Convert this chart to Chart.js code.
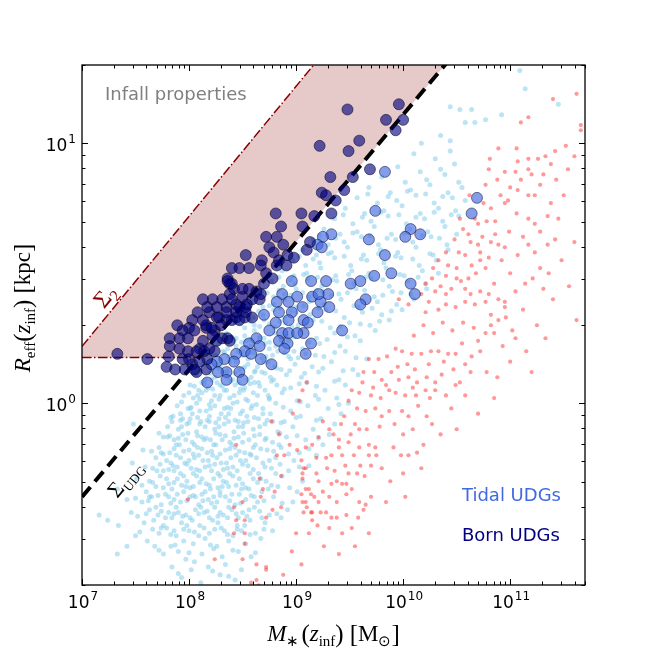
<!DOCTYPE html>
<html>
<head>
<meta charset="utf-8">
<script src="https://cdn.jsdelivr.net/npm/chart.js@4.4.1/dist/chart.umd.min.js"></script>
<style>
  html, body { margin: 0; padding: 0; background: #fff; }
  canvas { display: block; }
</style>
</head>
<body>
<canvas id="udgChart" width="650" height="650"></canvas>
<script>
// axis ranges and tick labels
const xRange = [1e7, 5e11];
const yRange = [0.2, 20];
const xTickExps = [7, 8, 9, 10, 11];
const yTickExps = [0, 1];

// surface density lines: R = norm * (M / 1e7)^slope
const sigUdg = { norm: 0.4365, slope: 0.49 };
const sig2 = { norm: 1.656, slope: 0.5 };
const rFloor = 1.5;

// all points as [log10 M*, log10 Reff]
const fieldPts = [
  [7.93,-0.67],[8.11,-0.69],[8.29,-0.66],[8.43,-0.68],[8.02,-0.64],
  [7.84,-0.63],[8.05,-0.61],[8.18,-0.63],[8.34,-0.62],[8.49,-0.64],[7.97,-0.6],
  [7.76,-0.58],[7.90,-0.57],[8.12,-0.58],[8.23,-0.56],[8.31,-0.59],[8.46,-0.57],[8.58,-0.59],[7.68,-0.55],
  [7.61,-0.53],[7.83,-0.55],[7.95,-0.53],[8.04,-0.54],[8.15,-0.52],[8.26,-0.55],[8.37,-0.53],[8.53,-0.54],[8.67,-0.52],
  [7.50,-0.51],[7.72,-0.50],[7.79,-0.48],[7.88,-0.51],[8.00,-0.49],[8.09,-0.51],[8.19,-0.50],[8.30,-0.48],[8.41,-0.51],[8.49,-0.49],[8.62,-0.50],[8.78,-0.49],
  [7.34,-0.47],[7.58,-0.46],[7.67,-0.45],[7.76,-0.47],[7.84,-0.44],[7.93,-0.46],[8.03,-0.45],[8.10,-0.47],[8.22,-0.45],[8.27,-0.46],[8.36,-0.44],[8.45,-0.47],[8.57,-0.45],[8.71,-0.46],[8.86,-0.44],
  [7.16,-0.43],[7.24,-0.45],[7.46,-0.42],[7.63,-0.41],[7.71,-0.43],[7.81,-0.42],[7.88,-0.40],[7.97,-0.43],[8.06,-0.41],[8.14,-0.42],[8.24,-0.40],[8.32,-0.43],[8.40,-0.41],[8.50,-0.42],[8.61,-0.40],[8.75,-0.43],[8.92,-0.41],
  [7.42,-0.37],[7.56,-0.38],[7.65,-0.36],[7.74,-0.39],[7.86,-0.37],[7.92,-0.38],[8.01,-0.36],[8.09,-0.39],[8.18,-0.37],[8.26,-0.38],[8.34,-0.36],[8.43,-0.39],[8.53,-0.37],[8.64,-0.38],[8.79,-0.36],[8.97,-0.38],
  [7.33,-0.33],[7.60,-0.34],[7.69,-0.32],[7.78,-0.35],[7.84,-0.33],[7.95,-0.34],[8.04,-0.32],[8.12,-0.35],[8.20,-0.33],[8.29,-0.34],[8.37,-0.32],[8.47,-0.35],[8.56,-0.33],[8.68,-0.34],[8.83,-0.32],[9.01,-0.34],
  [7.51,-0.29],[7.63,-0.30],[7.73,-0.28],[7.81,-0.31],[7.89,-0.29],[7.98,-0.30],[8.07,-0.28],[8.16,-0.31],[8.23,-0.29],[8.32,-0.30],[8.41,-0.28],[8.50,-0.31],[8.60,-0.29],[8.72,-0.30],[8.87,-0.28],[9.06,-0.30],
  [7.47,-0.23],[7.66,-0.25],[7.76,-0.26],[7.85,-0.24],[7.92,-0.27],[8.02,-0.25],[8.10,-0.26],[8.19,-0.24],[8.27,-0.27],[8.36,-0.25],[8.45,-0.26],[8.55,-0.24],[8.65,-0.27],[8.77,-0.25],[8.93,-0.26],[9.12,-0.24],
  [7.69,-0.21],[7.79,-0.22],[7.88,-0.20],[7.96,-0.23],[8.05,-0.21],[8.13,-0.22],[8.22,-0.20],[8.30,-0.23],[8.39,-0.21],[8.48,-0.22],[8.58,-0.20],[8.69,-0.23],[8.81,-0.21],[8.98,-0.22],[9.19,-0.20],
  [7.57,-0.18],[7.72,-0.17],[7.82,-0.19],[7.91,-0.16],[8.00,-0.18],[8.08,-0.17],[8.17,-0.19],[8.25,-0.16],[8.34,-0.18],[8.43,-0.17],[8.52,-0.19],[8.62,-0.16],[8.73,-0.18],[8.86,-0.17],[9.03,-0.19],[9.25,-0.16],
  [7.76,-0.13],[7.86,-0.14],[7.94,-0.12],[8.03,-0.15],[8.12,-0.13],[8.20,-0.14],[8.29,-0.12],[8.38,-0.15],[8.46,-0.13],[8.56,-0.14],[8.66,-0.12],[8.78,-0.15],[8.91,-0.13],[9.09,-0.14],[9.31,-0.12],
  [7.48,-0.08],[7.80,-0.09],[7.90,-0.10],[7.98,-0.08],[8.07,-0.11],[8.15,-0.09],[8.24,-0.10],[8.33,-0.08],[8.42,-0.11],[8.50,-0.09],[8.60,-0.10],[8.71,-0.08],[8.83,-0.11],[8.97,-0.09],[9.16,-0.10],[9.36,-0.08],
  [7.85,-0.05],[7.94,-0.06],[8.03,-0.04],[8.11,-0.07],[8.19,-0.05],[8.28,-0.06],[8.37,-0.04],[8.46,-0.07],[8.54,-0.05],[8.65,-0.06],[8.76,-0.04],[8.89,-0.07],[9.04,-0.05],[9.23,-0.06],[9.42,-0.04],
  [7.89,-0.01],[7.99,-0.02],[8.07,0.00],[8.16,-0.03],[8.24,-0.01],[8.33,-0.02],[8.41,0.00],[8.50,-0.03],[8.59,-0.01],[8.69,-0.02],[8.81,0.00],[8.95,-0.03],[9.11,-0.01],[9.30,-0.02],[9.49,0.00],
  [7.95,0.03],[8.04,0.02],[8.12,0.04],[8.21,0.01],[8.29,0.03],[8.38,0.02],[8.47,0.04],[8.55,0.01],[8.64,0.03],[8.75,0.02],[8.87,0.04],[9.01,0.01],[9.18,0.03],[9.38,0.02],
  [8.01,0.07],[8.09,0.05],[8.18,0.06],[8.26,0.08],[8.35,0.05],[8.43,0.07],[8.52,0.06],[8.61,0.08],[8.71,0.05],[8.82,0.07],[8.95,0.06],[9.10,0.08],[9.27,0.05],[9.46,0.07],
  [8.07,0.11],[8.15,0.09],[8.24,0.10],[8.32,0.12],[8.41,0.09],[8.49,0.11],[8.58,0.10],[8.68,0.12],[8.79,0.09],[8.91,0.11],[9.05,0.10],[9.21,0.12],[9.40,0.09],[9.58,0.11],
  [8.13,0.15],[8.21,0.13],[8.30,0.14],[8.38,0.16],[8.47,0.13],[8.55,0.15],[8.64,0.14],[8.74,0.16],[8.86,0.13],[8.99,0.15],[9.15,0.14],[9.33,0.16],[9.53,0.13],
  [8.21,0.19],[8.29,0.17],[8.37,0.18],[8.46,0.20],[8.55,0.17],[8.63,0.19],[8.72,0.18],[8.83,0.20],[8.95,0.17],[9.09,0.19],[9.26,0.18],[9.46,0.20],[9.66,0.17],
  [8.27,0.23],[8.36,0.21],[8.44,0.22],[8.53,0.24],[8.61,0.21],[8.71,0.23],[8.81,0.22],[8.93,0.24],[9.06,0.21],[9.22,0.23],[9.41,0.22],[9.60,0.24],
  [8.35,0.27],[8.44,0.25],[8.52,0.26],[8.61,0.28],[8.70,0.25],[8.80,0.27],[8.91,0.26],[9.04,0.28],[9.19,0.25],[9.36,0.27],[9.55,0.26],[9.74,0.28],
  [8.43,0.31],[8.52,0.29],[8.61,0.30],[8.70,0.32],[8.80,0.29],[8.90,0.31],[9.02,0.30],[9.16,0.32],[9.32,0.29],[9.50,0.31],[9.69,0.30],[9.87,0.32],
  [8.51,0.35],[8.60,0.33],[8.69,0.34],[8.79,0.36],[8.89,0.33],[9.00,0.35],[9.13,0.34],[9.28,0.36],[9.45,0.33],[9.62,0.35],[9.80,0.34],[9.99,0.36],
  [8.59,0.39],[8.69,0.37],[8.79,0.38],[8.89,0.40],[9.00,0.37],[9.12,0.39],[9.26,0.38],[9.42,0.40],[9.58,0.37],[9.76,0.39],[9.94,0.38],[10.10,0.40],
  [8.68,0.43],[8.79,0.41],[8.89,0.42],[9.00,0.44],[9.12,0.41],[9.25,0.43],[9.40,0.42],[9.56,0.44],[9.73,0.41],[9.90,0.43],[10.07,0.42],[10.22,0.44],
  [8.77,0.47],[8.88,0.45],[8.99,0.46],[9.11,0.48],[9.24,0.45],[9.38,0.47],[9.54,0.46],[9.70,0.48],[9.87,0.45],[10.04,0.47],[10.21,0.46],
  [8.87,0.51],[8.98,0.49],[9.10,0.50],[9.23,0.52],[9.37,0.49],[9.52,0.51],[9.68,0.50],[9.84,0.52],[10.01,0.49],[10.18,0.51],[10.33,0.50],
  [8.97,0.55],[9.09,0.53],[9.22,0.54],[9.36,0.56],[9.51,0.53],[9.66,0.55],[9.82,0.54],[9.98,0.56],[10.15,0.53],[10.31,0.55],
  [9.06,0.59],[9.19,0.57],[9.33,0.58],[9.48,0.60],[9.63,0.57],[9.79,0.59],[9.95,0.58],[10.12,0.60],[10.28,0.57],[10.42,0.59],
  [9.16,0.63],[9.30,0.61],[9.45,0.62],[9.61,0.64],[9.77,0.61],[9.93,0.63],[10.09,0.62],[10.26,0.64],[10.41,0.61],
  [9.26,0.67],[9.41,0.65],[9.57,0.66],[9.73,0.68],[9.89,0.65],[10.06,0.67],[10.23,0.66],[10.39,0.68],[10.50,0.65],
  [9.36,0.71],[9.53,0.69],[9.70,0.70],[9.86,0.72],[10.03,0.69],[10.20,0.71],[10.37,0.70],[10.52,0.72],
  [9.46,0.75],[9.64,0.73],[9.82,0.74],[9.99,0.76],[10.16,0.73],[10.33,0.75],[10.49,0.74],
  [9.57,0.79],[9.76,0.77],[9.94,0.78],[10.12,0.80],[10.29,0.77],[10.46,0.79],[10.58,0.78],
  [9.68,0.83],[9.88,0.81],[10.07,0.82],[10.25,0.84],[10.42,0.81],[10.55,0.83],
  [9.80,0.87],[10.02,0.85],[10.22,0.86],[10.39,0.88],[10.52,0.85],
  [9.95,0.91],[10.16,0.89],[10.35,0.90],[10.48,0.92],
  [10.10,0.96],[10.30,0.94],[10.44,0.97],
  [10.17,1.00],[10.44,1.01],[10.35,1.03],
  [10.44,1.14],[10.53,1.13],[10.64,1.13],[10.67,1.08],[10.58,1.08],[10.77,1.09],[10.92,1.11],
  [11.14,1.21],[11.09,1.28],[11.45,1.15],
  [7.33,-0.58],[7.42,-0.55],
  // denser core
  [7.74,-0.48],[7.86,-0.49],[7.98,-0.47],[8.14,-0.48],[8.33,-0.49],[8.52,-0.47],
  [7.69,-0.40],[7.78,-0.44],[7.90,-0.42],[8.01,-0.44],[8.11,-0.40],[8.19,-0.44],[8.29,-0.42],[8.37,-0.40],[8.46,-0.44],[8.56,-0.41],[8.68,-0.44],
  [7.63,-0.36],[7.81,-0.36],[7.89,-0.35],[7.97,-0.32],[8.06,-0.36],[8.15,-0.34],[8.23,-0.36],[8.31,-0.32],[8.40,-0.35],[8.49,-0.33],[8.61,-0.36],[8.74,-0.33],
  [7.70,-0.26],[7.79,-0.29],[7.86,-0.26],[7.95,-0.28],[8.04,-0.27],[8.12,-0.29],[8.21,-0.26],[8.29,-0.28],[8.38,-0.27],[8.47,-0.29],[8.57,-0.27],[8.67,-0.29],[8.81,-0.27],
  [7.74,-0.19],[7.83,-0.23],[7.92,-0.21],[8.00,-0.22],[8.09,-0.20],[8.18,-0.22],[8.26,-0.21],[8.35,-0.23],[8.44,-0.20],[8.53,-0.22],[8.63,-0.21],[8.75,-0.22],
  [7.80,-0.13],[7.88,-0.16],[7.97,-0.14],[8.05,-0.16],[8.14,-0.14],[8.23,-0.16],[8.31,-0.14],[8.40,-0.16],[8.50,-0.15],[8.60,-0.17],[8.71,-0.14],[8.84,-0.16],
  [7.84,-0.07],[7.93,-0.09],[8.01,-0.06],[8.10,-0.08],[8.19,-0.07],[8.28,-0.09],[8.37,-0.07],[8.46,-0.09],[8.55,-0.07],[8.66,-0.09],[8.78,-0.07],
  [7.92,-0.04],[8.01,-0.02],[8.10,-0.03],[8.20,-0.02],[8.30,-0.04],[8.39,-0.02],[8.48,-0.04],[8.58,-0.02],[8.69,-0.04],
  [8.00,0.04],[8.08,0.03],[8.16,0.05],[8.24,0.03],[8.33,0.05],[8.42,0.03],[8.51,0.05],[8.60,0.04],[8.74,0.03],
  [8.12,0.08],[8.21,0.09],[8.29,0.07],[8.36,0.10],[8.46,0.08],[8.55,0.09],[8.65,0.08],[8.76,0.10],
  [8.19,0.16],[8.27,0.15],[8.35,0.12],[8.44,0.16],[8.52,0.14],[8.61,0.12],[8.70,0.16],[8.80,0.14],[8.93,0.18],
  [8.32,0.20],[8.42,0.24],[8.50,0.20],[8.58,0.22],[8.66,0.25],[8.75,0.21],[8.86,0.24],[8.98,0.20],
  // in-between points
  [7.90,-0.655],[8.22,-0.645],[8.37,-0.665],
  [7.72,-0.565],[7.87,-0.545],[8.00,-0.575],[8.20,-0.545],[8.41,-0.565],[8.62,-0.575],
  [7.54,-0.495],[7.66,-0.485],[7.83,-0.505],[7.95,-0.485],[8.05,-0.495],[8.24,-0.485],[8.36,-0.505],[8.45,-0.485],[8.57,-0.505],[8.70,-0.485],
  [7.52,-0.435],[7.60,-0.425],[7.74,-0.415],[7.86,-0.425],[7.94,-0.435],[8.09,-0.425],[8.17,-0.415],[8.27,-0.435],[8.44,-0.425],[8.54,-0.435],[8.66,-0.415],[8.82,-0.425],
  [7.50,-0.365],[7.62,-0.375],[7.71,-0.355],[7.83,-0.385],[7.98,-0.375],[8.04,-0.355],[8.13,-0.375],[8.21,-0.385],[8.29,-0.355],[8.38,-0.375],[8.48,-0.385],[8.58,-0.355],[8.70,-0.375],[8.87,-0.385],
  [7.56,-0.315],[7.66,-0.305],[7.76,-0.325],[7.86,-0.305],[7.93,-0.315],[8.01,-0.325],[8.10,-0.305],[8.19,-0.315],[8.27,-0.325],[8.35,-0.305],[8.44,-0.315],[8.53,-0.325],[8.64,-0.305],[8.77,-0.315],[8.94,-0.325],
  [7.59,-0.245],[7.73,-0.235],[7.81,-0.255],[7.89,-0.245],[7.98,-0.235],[8.07,-0.255],[8.15,-0.245],[8.24,-0.235],[8.32,-0.255],[8.41,-0.245],[8.50,-0.235],[8.60,-0.255],[8.71,-0.245],[8.85,-0.235],[9.03,-0.245],
  [7.65,-0.185],[7.76,-0.195],[7.86,-0.175],[7.95,-0.185],[8.04,-0.195],[8.12,-0.175],[8.21,-0.185],[8.29,-0.195],[8.38,-0.175],[8.47,-0.185],[8.57,-0.195],[8.67,-0.175],[8.79,-0.185],[8.93,-0.195],[9.12,-0.175],
  [7.72,-0.115],[7.82,-0.125],[7.90,-0.135],[7.99,-0.115],[8.08,-0.125],[8.16,-0.135],[8.25,-0.115],[8.34,-0.125],[8.42,-0.135],[8.51,-0.115],[8.61,-0.125],[8.72,-0.135],[8.85,-0.115],[9.01,-0.125],[9.21,-0.135],
  [7.83,-0.055],[7.92,-0.065],[8.00,-0.075],[8.08,-0.055],[8.17,-0.065],[8.25,-0.075],[8.34,-0.055],[8.43,-0.065],[8.51,-0.075],[8.61,-0.055],[8.73,-0.065],[8.86,-0.075],[9.00,-0.055],[9.19,-0.065],
  [7.93,0.005],[8.02,-0.015],[8.10,0.015],[8.19,-0.005],[8.28,0.015],[8.36,-0.015],[8.45,0.005],[8.53,0.015],[8.63,-0.005],[8.75,0.015],[8.88,-0.015],[9.04,0.005],[9.21,0.015],[9.40,-0.005],
  [8.05,0.065],[8.14,0.075],[8.22,0.055],[8.31,0.065],[8.39,0.085],[8.48,0.055],[8.57,0.075],[8.66,0.065],[8.77,0.085],[8.89,0.055],[9.03,0.075],[9.19,0.065],[9.36,0.085],
  [8.11,0.125],[8.20,0.115],[8.28,0.135],[8.36,0.125],[8.43,0.115],[8.51,0.135],[8.62,0.125],[8.71,0.115],[8.82,0.135],[8.94,0.125],[9.08,0.115],[9.25,0.135],[9.44,0.125],
  [8.25,0.185],[8.33,0.195],[8.41,0.175],[8.50,0.185],[8.59,0.195],[8.68,0.175],[8.78,0.185],[8.89,0.195],[9.02,0.175],[9.18,0.185],[9.36,0.195],[9.56,0.175],
  [8.32,0.245],[8.40,0.255],[8.49,0.235],[8.57,0.245],[8.66,0.255],[8.75,0.235],[8.86,0.245],[8.98,0.255],[9.12,0.235],[9.29,0.245],[9.48,0.255],
  [8.48,0.305],[8.57,0.315],[8.66,0.295],[8.75,0.305],[8.85,0.315],[8.96,0.295],[9.09,0.305],[9.24,0.315],[9.41,0.295],[9.60,0.305],[9.78,0.315],
  [8.56,0.365],[8.65,0.355],[8.75,0.375],[8.85,0.365],[8.95,0.355],[9.07,0.375],[9.21,0.365],[9.37,0.355],[9.54,0.375],[9.71,0.365],[9.89,0.355],
  [8.73,0.425],[8.84,0.435],[8.95,0.415],[9.06,0.425],[9.19,0.435],[9.33,0.415],[9.48,0.425],[9.64,0.435],[9.81,0.415],[9.98,0.425],
  [8.84,0.485],[8.95,0.475],[9.07,0.495],[9.20,0.485],[9.34,0.475],[9.49,0.495],[9.65,0.485],[9.81,0.475],[9.97,0.495],[10.14,0.485],
  [9.03,0.565],[9.16,0.555],[9.30,0.575],[9.45,0.565],[9.61,0.555],[9.77,0.575],[9.93,0.565],[10.09,0.555],[10.25,0.575],
  [9.22,0.645],[9.37,0.635],[9.53,0.655],[9.69,0.645],[9.85,0.635],[10.01,0.655],[10.18,0.645],[10.34,0.635],
  [9.44,0.725],[9.62,0.715],[9.79,0.735],[9.96,0.725],[10.12,0.715],[10.29,0.735],[10.45,0.725],
  [9.67,0.805],[9.86,0.795],[10.04,0.815],[10.21,0.805],[10.37,0.795]
];

const hostPts = [
  [11.40,1.17],[11.62,1.19],[11.66,1.07],[11.66,1.05],[11.17,1.10],[11.10,1.08],[10.89,0.98],[11.06,0.98],
  [10.81,0.94],[11.17,0.94],[11.26,0.94],[11.33,0.95],[11.42,0.97],[11.52,0.99],[11.07,0.93],[11.05,0.89],
  [11.17,0.90],[11.20,0.88],[11.31,0.88],[11.54,0.90],[10.80,0.90],[10.95,0.89],[11.43,0.86],[10.77,0.84],
  [11.00,0.83],[10.91,0.80],[11.07,0.82],[11.17,0.80],[11.23,0.80],[11.38,0.77],[10.98,0.78],[10.95,0.77],
  [10.82,0.75],[11.06,0.73],[11.17,0.71],[11.23,0.69],[11.35,0.72],[11.45,0.71],[10.53,0.71],[10.67,0.71],
  [10.70,0.69],[10.78,0.70],[10.86,0.65],[10.82,0.62],[10.89,0.61],[10.95,0.60],[11.17,0.61],[11.23,0.58],
  [11.35,0.61],[11.60,0.62],[11.07,0.57],[10.61,0.65],[10.63,0.62],[10.70,0.61],[10.40,0.58],[10.52,0.58],
  [10.58,0.57],[10.72,0.58],[10.80,0.56],[10.92,0.55],[11.00,0.50],[11.14,0.46],[10.33,0.55],[10.42,0.53],
  [10.50,0.52],[10.64,0.53],[10.72,0.55],[10.77,0.52],[10.61,0.48],[10.50,0.48],[10.40,0.49],[10.28,0.52],
  [10.27,0.48],[10.21,0.46],[10.30,0.43],[10.40,0.42],[10.45,0.44],[10.58,0.44],[10.63,0.42],[10.72,0.43],
  [10.80,0.42],[10.89,0.40],[10.95,0.39],[10.77,0.39],[10.67,0.38],[10.58,0.39],[10.49,0.37],[10.40,0.38],
  [10.33,0.36],[10.24,0.39],[10.17,0.42],[10.05,0.38],[9.96,0.40],[10.21,0.35],[10.82,0.34],[10.95,0.37],
  [11.28,0.52],[11.31,0.44],[11.48,0.55],[11.12,0.36],[11.25,0.30],[11.40,0.40],[11.05,0.25],
  [10.96,0.33],[10.89,0.32],[10.82,0.30],[10.77,0.27],[10.70,0.24],[10.72,0.20],[10.64,0.18],[10.63,0.12],
  [10.55,0.23],[10.49,0.19],[10.42,0.19],[10.33,0.20],[10.26,0.20],[10.17,0.19],[10.08,0.19],[9.99,0.20],
  [9.93,0.21],[9.85,0.18],[9.77,0.17],[9.68,0.17],[9.63,0.12],[9.73,0.12],[9.80,0.09],[9.89,0.12],
  [9.96,0.09],[10.05,0.10],[10.13,0.08],[10.22,0.10],[10.30,0.08],[10.36,0.11],[10.49,0.07],[10.53,0.08],
  [10.40,0.03],[10.30,0.05],[10.21,0.05],[10.12,0.03],[10.02,0.03],[9.93,0.04],[9.87,0.05],[9.79,0.02],
  [9.70,0.03],[9.59,0.04],[9.52,0.05],[9.49,0.01],[9.57,-0.02],[9.65,-0.03],[9.74,-0.02],[9.80,-0.05],
  [9.87,-0.03],[9.99,-0.03],[10.05,-0.05],[10.14,-0.01],[10.27,-0.08],[10.19,-0.16],[10.13,-0.19],[10.05,-0.20],
  [9.98,-0.20],[9.91,-0.17],[9.74,-0.17],[9.68,-0.16],[9.59,-0.17],[9.49,-0.15],[9.40,-0.17],[9.33,-0.20],
  [9.43,-0.20],[9.68,-0.20],[9.75,-0.20],[9.70,-0.24],[9.60,-0.24],[9.49,-0.27],[9.57,-0.27],[9.47,-0.31],
  [9.43,-0.31],[9.38,-0.30],[9.33,-0.31],[9.29,-0.25],[9.28,-0.21],[9.19,-0.21],[9.15,-0.16],[9.21,-0.13],
  [9.31,-0.10],[9.42,-0.08],[9.51,-0.12],[9.59,-0.10],[9.40,-0.14],[9.47,-0.35],[9.59,-0.38],[9.65,-0.39],
  [9.63,-0.41],[9.38,-0.38],[9.31,-0.36],[9.21,-0.38],[9.14,-0.35],[9.09,-0.33],[9.06,-0.27],[9.07,-0.25],
  [9.19,-0.27],[9.21,-0.30],[9.10,-0.40],[9.15,-0.42],[9.23,-0.42],[9.38,-0.44],[9.43,-0.50],[9.06,-0.38],
  [9.05,-0.35],[8.44,-0.16],[8.66,-0.29],[8.77,-0.07],[8.84,-0.12],[8.82,-0.20],[8.80,-0.34],[8.69,-0.33],
  [8.67,-0.36],[8.72,-0.44],[8.50,-0.38],[8.42,-0.40],[8.44,-0.45],[8.52,-0.45],[8.52,-0.50],[8.42,-0.50],
  [8.52,-0.54],[8.50,-0.60],[8.24,-0.60],[8.63,-0.62],[8.72,-0.63],[8.58,-0.69],[8.63,-0.68],[7.99,-0.37],
  [9.00,-0.50],[8.86,-0.40],[8.78,-0.41],[8.86,-0.28],[8.89,-0.20],[8.94,-0.16],[8.97,-0.04],[9.03,0.01],
  [9.06,0.05],[9.10,0.08],[9.01,-0.18],[9.09,-0.17],[9.05,-0.22],[9.09,-0.25],[9.06,-0.29],[9.12,-0.33],
  [9.17,-0.36],[9.09,-0.38],[9.07,-0.42],[9.14,-0.42],[9.15,-0.45],[9.20,-0.47],[9.28,-0.42],[9.33,-0.44],
  [9.31,-0.48],[9.47,-0.43],[9.52,-0.48],[8.72,-0.64],[8.65,-0.70],
  [10.10,0.26],[10.19,0.30],[10.28,0.27],[10.37,0.31],[10.46,0.28],[10.56,0.31],[10.66,0.29],[10.85,0.27],
  [10.93,0.22],[11.02,0.28],[11.15,0.20],[11.33,0.25],[9.95,0.14],[10.04,0.15],[10.11,0.13],[10.24,0.15],
  [10.38,0.16],[10.47,0.13],[10.58,0.15],[10.78,0.12],[10.88,0.10],[11.00,0.16],[11.20,0.12],[9.62,0.08],
  [9.72,0.06],[9.84,0.07],[10.09,0.06],[10.25,0.02],[10.45,-0.02],[10.58,0.03],[10.70,-0.04],[10.85,0.02],
  [9.45,-0.05],[9.55,-0.08],[9.66,-0.10],[9.78,-0.09],[9.92,-0.08],[10.00,-0.12],[10.09,-0.10],[10.22,-0.05],
  [10.35,-0.12],[10.50,-0.10],[9.25,-0.07],[9.35,-0.12],[9.46,-0.24],[9.54,-0.20],[9.64,-0.28],[9.80,-0.25],
  [9.88,-0.30],[10.00,-0.27],[10.17,-0.25],[9.25,-0.34],[9.36,-0.26],[9.52,-0.33],[9.58,-0.44],[9.70,-0.36],
  [9.84,-0.38],[10.02,-0.36],[9.12,-0.50],[9.26,-0.55],[9.40,-0.58],[9.55,-0.55],[9.68,-0.50],[8.96,-0.57],
  [9.05,-0.62],[8.88,-0.66],[10.48,0.63],[10.56,0.67],[10.74,0.64],[10.86,0.70],[10.99,0.66],[11.12,0.64],
  [11.28,0.66],[11.42,0.63],[10.62,0.80],[10.75,0.77],[10.88,0.86],[11.10,0.86],[11.28,0.84],[11.50,0.80],
  [11.38,0.92],[11.60,0.95],[10.35,0.45],[10.54,0.47],[10.68,0.50],[10.85,0.46],[11.05,0.43],[11.21,0.48],
  [11.36,0.50],[11.55,0.45],[11.62,0.32]
];

const tidalPts = [
  [9.83,0.89],[10.69,0.79],[10.64,0.73],[9.74,0.74],[9.33,0.65],[9.25,0.64],[9.20,0.61],[9.24,0.60],
  [9.68,0.63],[10.07,0.67],[10.02,0.64],[10.16,0.65],[9.83,0.57],[9.73,0.49],[9.89,0.50],[10.07,0.46],
  [10.11,0.42],[9.51,0.46],[9.60,0.47],[9.28,0.47],[9.14,0.47],[9.15,0.41],[9.23,0.39],[9.30,0.42],
  [9.31,0.37],[9.20,0.35],[9.06,0.37],[9.65,0.40],[9.60,0.38],[9.07,0.32],[9.11,0.31],[9.07,0.27],
  [9.14,0.23],[9.09,0.19],[9.43,0.28],[8.96,0.47],[8.87,0.42],[9.01,0.41],[9.21,0.42],[8.82,0.39],
  [8.93,0.39],[8.84,0.35],[8.96,0.35],[8.70,0.34],[8.81,0.31],[8.75,0.28],[8.87,0.27],[8.93,0.27],
  [9.01,0.27],[8.84,0.24],[8.92,0.23],[8.63,0.25],[8.56,0.23],[8.52,0.20],[8.66,0.22],[8.67,0.17],
  [8.77,0.15],[8.44,0.19],[8.42,0.16],[8.47,0.12],[8.50,0.09],[8.17,0.08],[8.35,0.12],[8.33,0.17],
  [8.26,0.16],[8.21,0.15],[8.27,0.12],[8.35,0.09],[8.58,0.19],[8.89,0.21],[8.93,0.32]
];

const bornPts = [
  [9.48,1.13],[9.96,1.15],[9.84,1.09],[10.00,1.09],[9.93,1.05],[9.22,0.99],[9.59,1.01],[9.49,0.97],
  [9.69,0.90],[9.32,0.87],[9.53,0.87],[9.24,0.81],[9.28,0.80],[9.37,0.78],[9.45,0.82],[9.33,0.73],
  [9.17,0.72],[9.05,0.73],[9.06,0.68],[8.81,0.73],[8.86,0.68],[8.72,0.64],[8.82,0.64],[8.75,0.60],
  [8.88,0.61],[8.53,0.57],[8.68,0.55],[8.92,0.57],[8.98,0.56],[9.13,0.62],[9.10,0.59],[8.79,0.58],
  [8.82,0.53],[8.91,0.53],[8.72,0.50],[8.56,0.52],[8.47,0.52],[8.40,0.52],[8.36,0.48],[8.38,0.46],
  [8.42,0.44],[8.50,0.44],[8.56,0.44],[8.63,0.43],[8.66,0.40],[8.59,0.40],[8.53,0.37],[8.47,0.37],
  [8.38,0.42],[8.31,0.40],[8.22,0.40],[8.13,0.40],[8.03,0.32],[8.00,0.29],[7.94,0.28],[7.91,0.25],
  [7.82,0.25],[7.82,0.22],[7.91,0.21],[7.79,0.14],[7.87,0.13],[7.96,0.13],[8.03,0.15],[8.07,0.12],
  [8.16,0.13],[8.10,0.21],[8.19,0.21],[8.26,0.24],[8.31,0.25],[8.36,0.25],[8.24,0.28],[8.16,0.29],
  [8.13,0.32],[8.08,0.35],[8.19,0.35],[8.28,0.33],[8.35,0.32],[8.44,0.33],[8.52,0.33],[8.53,0.35],
  [8.35,0.37],[8.26,0.37],[7.33,0.19],[7.61,0.17],[7.81,0.18],[7.94,0.17],[7.99,0.25],[7.89,0.30],
  [8.16,0.30],[8.21,0.29],[8.22,0.26],[8.38,0.24],[8.24,0.20],[8.14,0.20],[8.17,0.17],[8.07,0.20],
  [8.26,0.33],[8.40,0.32],[8.47,0.32],[8.44,0.35],[8.59,0.33],[8.54,0.38],[8.44,0.38],[8.40,0.40],
  [8.17,0.37],[8.35,0.35],[8.50,0.41],[8.40,0.46],[8.36,0.47],[8.67,0.53],[8.84,0.55],[8.78,0.48],
  [8.70,0.46],[8.67,0.42],[8.05,0.13],[8.00,0.17],[8.10,0.16],[7.99,0.20],[8.13,0.24],[8.05,0.28],
  [8.30,0.30]
];

const toXY = pts => pts.map(p => ({ x: Math.pow(10, p[0]), y: Math.pow(10, p[1]) }));
const powLine = (s, m) => s.norm * Math.pow(m / 1e7, s.slope);
const massAt = (s, r) => 1e7 * Math.pow(r / s.norm, 1 / s.slope);

// shaded region between the two surface density limits, above R = 1.5 kpc
const mCross = massAt(sigUdg, rFloor);
const mTop2 = massAt(sig2, yRange[1]);
const mTopU = massAt(sigUdg, yRange[1]);
const regionX = [xRange[0], mCross, mTop2, mTopU];
const regionUpper = regionX.map(m => Math.min(powLine(sig2, m), yRange[1]));
const regionLower = regionX.map(m => Math.max(powLine(sigUdg, m), rFloor));

const dataset = (pts, opts) => Object.assign({ data: toXY(pts), borderWidth: 0, pointHoverRadius: 0 }, opts);

function drawRich(ctx, parts, x, y, align) {
  let w = 0;
  parts.forEach(p => { ctx.font = p[1]; w += ctx.measureText(p[0]).width + (p[3] || 0); });
  let cx = align === 'center' ? x - w / 2 : (align === 'right' ? x - w : x);
  parts.forEach(p => {
    ctx.font = p[1];
    ctx.fillText(p[0], cx, y + (p[2] || 0));
    cx += ctx.measureText(p[0]).width + (p[3] || 0);
  });
}

const decorations = {
  id: 'decorations',
  afterDraw(chart) {
    const ctx = chart.ctx;
    const a = chart.chartArea;
    const xs = chart.scales.x, ys = chart.scales.y;
    ctx.save();
    ctx.fillStyle = '#000';
    ctx.strokeStyle = '#000';
    ctx.textBaseline = 'alphabetic';

    // ticks on all four sides, pointing inwards
    ctx.lineWidth = 1;
    ctx.beginPath();
    for (let e = 7; e <= 11; e++) {
      for (let k = 1; k <= 9; k++) {
        const v = k * Math.pow(10, e);
        if (v < xRange[0] || v > xRange[1]) continue;
        const px = Math.round(xs.getPixelForValue(v)) + 0.5;
        const len = k === 1 ? 6 : 3.5;
        ctx.moveTo(px, a.bottom); ctx.lineTo(px, a.bottom - len);
        ctx.moveTo(px, a.top); ctx.lineTo(px, a.top + len);
      }
    }
    for (let e = -1; e <= 1; e++) {
      for (let k = 1; k <= 9; k++) {
        const v = k * Math.pow(10, e);
        if (v < yRange[0] || v > yRange[1]) continue;
        const py = Math.round(ys.getPixelForValue(v)) + 0.5;
        const len = k === 1 ? 6 : 3.5;
        ctx.moveTo(a.left, py); ctx.lineTo(a.left + len, py);
        ctx.moveTo(a.right, py); ctx.lineTo(a.right - len, py);
      }
    }
    ctx.stroke();

    // frame
    ctx.lineWidth = 1.3;
    ctx.strokeRect(a.left, a.top, a.right - a.left, a.bottom - a.top);

    // tick labels
    const big = '17px "DejaVu Sans"', small = '12px "DejaVu Sans"';
    xTickExps.forEach(e => {
      const px = xs.getPixelForValue(Math.pow(10, e));
      drawRich(ctx, [['10', big, 0, 1], [String(e), small, -8]], px + 1, a.bottom + 23, 'center');
    });
    yTickExps.forEach(e => {
      const py = ys.getPixelForValue(Math.pow(10, e));
      drawRich(ctx, [['10', big, 0, 1], [String(e), small, -8]], a.left - 6, py + 8, 'right');
    });

    // axis labels
    const mi = 'italic 23px "Liberation Serif"', mr = '23px "Liberation Serif"', ms = '15px "Liberation Serif"';
    const big2 = '25px "Liberation Serif"';
    drawRich(ctx, [
      ['M', mi], ['\u2217', ms, 5, 2], ['(', big2, 1], ['z', mi], ['inf', ms, 5], [')', big2, 1, 6],
      ['[', big2, 1], ['M', mr], ['\u2299', ms, 5], [']', big2, 1]
    ], (a.left + a.right) / 2, 641, 'center');

    ctx.save();
    ctx.translate(30, 308);
    ctx.rotate(-Math.PI / 2);
    drawRich(ctx, [
      ['R', mi], ['eff', ms, 5], ['(', big2, 1], ['z', mi], ['inf', ms, 5], [')', big2, 1, 6],
      ['[', big2, 1], ['kpc', mr], [']', big2, 1]
    ], 0, 0, 'center');
    ctx.restore();

    // annotations
    ctx.font = '18px "DejaVu Sans"';
    ctx.fillStyle = '#808080';
    ctx.fillText('Infall properties', a.left + 23, a.top + 35);
    ctx.fillStyle = '#4169e1';
    ctx.fillText('Tidal UDGs', a.right - 123, a.bottom - 84);
    ctx.fillStyle = '#000080';
    ctx.fillText('Born UDGs', a.right - 123, a.bottom - 44);

    // line labels, rotated along the lines
    const ang = Math.atan2(sig2.slope * (ys.getPixelForValue(1) - ys.getPixelForValue(10)),
                           xs.getPixelForValue(1e8) - xs.getPixelForValue(1e7));
    const label = (m, r, parts, color) => {
      ctx.save();
      ctx.translate(xs.getPixelForValue(m), ys.getPixelForValue(r));
      ctx.rotate(-ang);
      ctx.fillStyle = color;
      drawRich(ctx, parts, 0, 7, 'center');
      ctx.restore();
    };
    label(Math.pow(10, 7.22), Math.pow(10, 0.41), [['\u03a3', '24px "Liberation Serif"'], ['2', '16px "Liberation Serif"', 5]], '#8b0000');
    label(Math.pow(10, 7.40), Math.pow(10, -0.29), [['\u03a3', '22px "Liberation Serif"'], ['UDG', '13px "Liberation Serif"', 5]], '#000');
    ctx.restore();
  }
};

new Chart(document.getElementById('udgChart'), {
  type: 'scatter',
  data: {
    datasets: [
      {
        type: 'line', order: 10,
        data: regionX.map((m, i) => ({ x: m, y: regionUpper[i] })),
        borderWidth: 0, pointRadius: 0, fill: '+1',
        backgroundColor: '#e6cac9', tension: 0
      },
      {
        type: 'line', order: 9,
        data: regionX.map((m, i) => ({ x: m, y: regionLower[i] })),
        borderWidth: 0, pointRadius: 0, fill: false, tension: 0
      },
      dataset(fieldPts, { order: 8, pointRadius: 2.5, backgroundColor: 'rgba(135,206,235,0.55)' }),
      dataset(hostPts, { order: 7, pointRadius: 2.1, backgroundColor: 'rgba(255,40,40,0.48)' }),
      {
        type: 'line', order: 5,
        data: [{ x: xRange[0], y: powLine(sig2, xRange[0]) }, { x: 1e10, y: powLine(sig2, 1e10) }],
        borderColor: '#8b0000', borderWidth: 1.5, borderDash: [9.6, 2.4, 1.5, 2.4], pointRadius: 0, fill: false
      },
      {
        type: 'line', order: 5,
        data: [{ x: xRange[0], y: rFloor }, { x: mCross, y: rFloor }],
        borderColor: '#8b0000', borderWidth: 1.5, borderDash: [9.6, 2.4, 1.5, 2.4], pointRadius: 0, fill: false
      },
      {
        type: 'line', order: 4,
        data: [{ x: xRange[0], y: powLine(sigUdg, xRange[0]) }, { x: 1e11, y: powLine(sigUdg, 1e11) }],
        borderColor: '#000', borderWidth: 4, borderDash: [13, 7], pointRadius: 0, fill: false
      },
      dataset(tidalPts, { order: 2, pointRadius: 5.5, backgroundColor: 'rgba(65,105,225,0.65)', borderColor: 'rgba(0,0,40,0.55)', borderWidth: 0.9 }),
      dataset(bornPts, { order: 1, pointRadius: 5.5, backgroundColor: 'rgba(0,0,128,0.62)', borderColor: 'rgba(0,0,30,0.6)', borderWidth: 0.9 })
    ]
  },
  options: {
    responsive: false,
    animation: false,
    devicePixelRatio: 1,
    layout: { padding: { left: 82, right: 65, top: 65, bottom: 65 } },
    plugins: { legend: { display: false }, tooltip: { enabled: false } },
    scales: {
      x: { type: 'logarithmic', min: xRange[0], max: xRange[1], display: false },
      y: { type: 'logarithmic', min: yRange[0], max: yRange[1], display: false }
    }
  },
  plugins: [decorations]
});
</script>
</body>
</html>
